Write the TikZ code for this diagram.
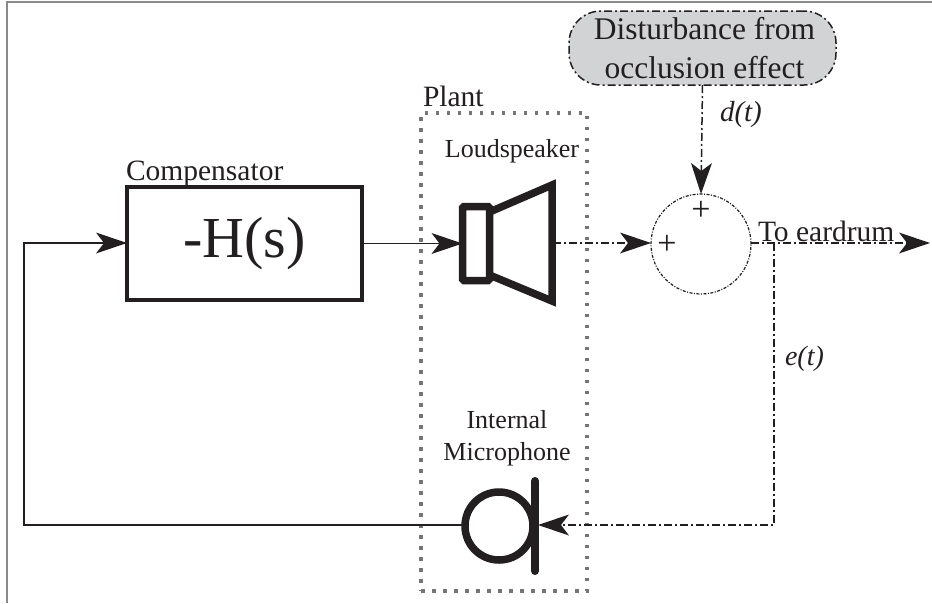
\documentclass[tikz,border=0pt]{standalone}
\usepackage{fontspec}
\setmainfont{Liberation Serif}
\usetikzlibrary{arrows.meta,shapes.misc}
\definecolor{ink}{HTML}{231F20}
\definecolor{framegray}{HTML}{8A8A8A}
\definecolor{dotgray}{HTML}{757575}
\definecolor{bubblefill}{HTML}{D1D3D4}
\tikzset{
  x=1pt,y=-1pt,
  every node/.style={text=ink,inner sep=0pt,outer sep=0pt},
  tiphead/.tip={Stealth[length=31pt,width=21pt,inset=8pt,line width=0pt]},
  wire/.style={draw=ink,line width=1.6pt},
  dashdot/.style={draw=ink,line width=1.5pt,dash pattern=on 8pt off 3pt on 2pt off 3pt},
  heavy/.style={draw=ink,line width=7.5pt},
  plantbox/.style={draw=dotgray,line width=3.5pt,dash pattern=on 3.5pt off 7.5pt},
  lab/.style={font=\fontsize{29.5}{29.5}\selectfont},
  smalllab/.style={font=\fontsize{26}{32}\selectfont,align=center},
  sumnode/.style={circle,draw=ink,line width=1.2pt,dash pattern=on 3pt off 1.5pt on 1pt off 1.5pt,minimum size=100pt},
}
\begin{document}
\begin{tikzpicture}
\useasboundingbox (0,0) rectangle (932,603);
\fill[white] (0,0) rectangle (932,603);
\draw[framegray,line width=2pt] (7,603) -- (7,1.5) -- (932,1.5);

% plant
\node[plantbox,minimum width=166pt,minimum height=478pt] (plant) at (504,352) {};
\node[lab,anchor=base west] (plantlab) at (423,106) {Plant};

% compensator
\node[draw=ink,line width=3.5pt,minimum width=235pt,minimum height=113pt,font=\fontsize{58}{58}\selectfont] (comp) at (244.5,243.5) {-H(s)};
\node[lab,anchor=base west] (complab) at (126,180) {Compensator};

% loudspeaker
\node[smalllab] (spklab) at (512,151) {Loudspeaker};
\node[heavy,rounded corners=1.5pt,minimum width=27pt,minimum height=74pt] (spk) at (476,243.5) {};
\coordinate (conein) at (553,243);
\draw[heavy,miter limit=10] (spk.east |- 0,212) -- (552,185) -- (552,301) -- (spk.east |- 0,275);

% disturbance
\node[draw=ink,fill=bubblefill,rounded corners=32pt,line width=1.5pt,dash pattern=on 8pt off 3pt on 2pt off 3pt,minimum width=267pt,minimum height=74pt] (dist) at (702.5,48) {};
\node[align=center,font=\fontsize{31.5}{39}\selectfont] (disttext) at (704.5,48) {Disturbance from\\occlusion effect};

% summing node
\node[sumnode] (sum) at (701,244) {};
\node[font=\fontsize{34}{34}\selectfont] (plus1) at (701,211) {+};
\node[font=\fontsize{34}{34}\selectfont] (plus2) at (667,245) {+};

% microphone
\node[circle,heavy,minimum size=68pt] (mic) at (499,526) {};
\coordinate (bartop) at (535,481);
\coordinate (barbot) at (535,571);
\draw[draw=ink,line width=8pt,line cap=round] (bartop) -- (barbot);
\coordinate (micin) at (538,525);
\node[smalllab] (miclab) at (507,438.5) {Internal\\Microphone};

% connectors
\coordinate (fbl) at (24,525);
\coordinate (fbu) at (24,243);
\coordinate (tap) at (774,243);
\coordinate (tapb) at (774,525);
\coordinate (out) at (930,243);
\draw[wire,-tiphead] (comp.east |- spk.west) -- (spk.west);
\draw[wire,-tiphead] (mic.west |- fbl) -- (fbl) -- (fbu) -- (comp.west |- fbu);
\draw[dashdot,-tiphead] (conein) -- (sum.west |- conein);
\draw[dashdot,-tiphead] (dist.south) -- (sum.north);
\draw[dashdot,-tiphead] (sum.east |- out) -- (out);
\draw[dashdot,-tiphead] (tap) -- (tapb) -- (micin);

% labels
\node[lab,anchor=base west] (toear) at (758,241) {To eardrum};
\node[font=\fontsize{29}{29}\selectfont\itshape,anchor=base west] (dt) at (720,121) {d(t)};
\node[font=\fontsize{28}{28}\selectfont\itshape,anchor=base west] (et) at (785,365) {e(t)};
\end{tikzpicture}
\end{document}
